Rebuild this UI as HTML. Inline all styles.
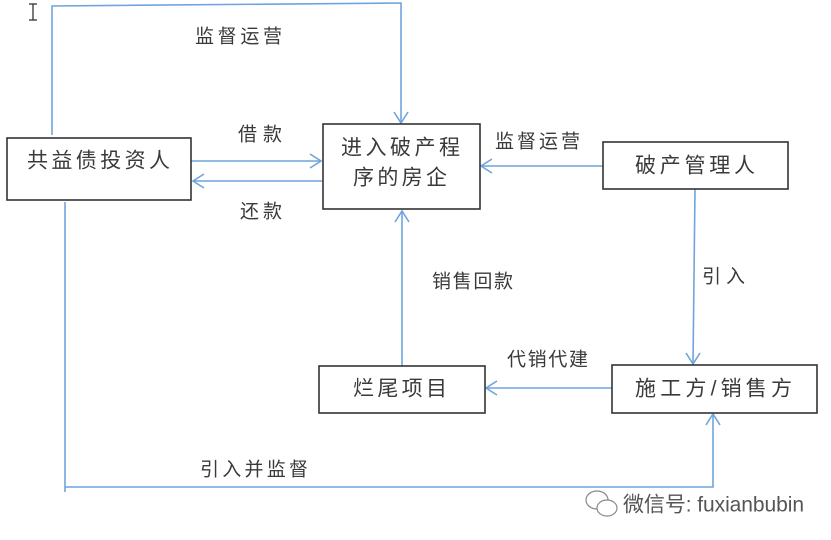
<!DOCTYPE html>
<html><head><meta charset="utf-8"><style>
html,body{margin:0;padding:0;background:#fff;}
svg{display:block;}
text{font-family:"Liberation Sans","Noto Sans CJK SC",sans-serif;fill:#3a3a3a;}
</style></head><body>
<svg width="831" height="540" viewBox="0 0 831 540" xmlns="http://www.w3.org/2000/svg">
<g stroke="#6fa4dc" stroke-width="1.6" fill="none">
  <!-- top loop -->
  <polyline points="52,135 52,6 401,3 401,123"/>
  <polyline points="394,112 401,123 408,112"/>
  <!-- borrow -->
  <line x1="191" y1="161" x2="321" y2="161"/>
  <polyline points="310,154 321,161 310,168"/>
  <!-- repay -->
  <line x1="322" y1="181" x2="193" y2="181"/>
  <polyline points="204,174 193,181 204,188"/>
  <!-- manager to company -->
  <line x1="603" y1="166" x2="481" y2="166"/>
  <polyline points="492,159 481,166 492,173"/>
  <!-- manager down to construction -->
  <line x1="695" y1="189" x2="693" y2="364"/>
  <polyline points="686,353 693,364 700,353"/>
  <!-- project up to company -->
  <line x1="402" y1="366" x2="402" y2="211"/>
  <polyline points="395,222 402,211 409,222"/>
  <!-- construction to project -->
  <line x1="612" y1="388" x2="486" y2="388"/>
  <polyline points="497,381 486,388 497,395"/>
  <!-- bottom loop -->
  <polyline points="65,202 65,492"/>
  <polyline points="65,487 713,487 713,414"/>
  <polyline points="706,425 713,414 720,425"/>
</g>
<!-- cursor -->
<g stroke="#333" stroke-width="1.3" fill="none">
  <line x1="33" y1="4" x2="33" y2="20"/>
  <line x1="29" y1="4" x2="37" y2="4"/>
  <line x1="29" y1="20" x2="37" y2="20"/>
</g>
<!-- boxes -->
<g stroke="#333" stroke-width="1.6" fill="#fff">
  <rect x="7" y="138" width="184" height="62"/>
  <rect x="323" y="124" width="157" height="85"/>
  <rect x="603" y="142" width="185" height="47"/>
  <rect x="319" y="366" width="166" height="47"/>
  <rect x="612" y="365" width="205" height="48"/>
</g>
<!-- box text -->
<g font-size="21" dominant-baseline="central">
  <text x="27" y="161" textLength="143" lengthAdjust="spacing">共益债投资人</text>
  <text x="341" y="148" textLength="119" lengthAdjust="spacing">进入破产程</text>
  <text x="353" y="178" textLength="94" lengthAdjust="spacing">序的房企</text>
  <text x="635" y="166" textLength="120" lengthAdjust="spacing">破产管理人</text>
  <text x="353" y="389" textLength="94" lengthAdjust="spacing">烂尾项目</text>
  <text x="635" y="389" textLength="157" lengthAdjust="spacing">施工方/销售方</text>
</g>
<!-- labels -->
<g font-size="19" dominant-baseline="central">
  <text x="195" y="37" textLength="87" lengthAdjust="spacing">监督运营</text>
  <text x="238" y="135" textLength="44" lengthAdjust="spacing">借款</text>
  <text x="240" y="212" textLength="42" lengthAdjust="spacing">还款</text>
  <text x="495" y="142" textLength="85" lengthAdjust="spacing">监督运营</text>
  <text x="702" y="277" textLength="43" lengthAdjust="spacing">引入</text>
  <text x="432" y="282" textLength="81" lengthAdjust="spacing">销售回款</text>
  <text x="507" y="360" textLength="81" lengthAdjust="spacing">代销代建</text>
  <text x="200" y="470" textLength="108" lengthAdjust="spacing">引入并监督</text>
</g>
<!-- watermark -->
<g stroke="#888" stroke-width="1.2" fill="#fff">
  <ellipse cx="597" cy="500" rx="11" ry="9"/>
  <ellipse cx="607" cy="508" rx="10" ry="8"/>
</g>
<text x="623" y="505" font-size="21" dominant-baseline="central" textLength="181" lengthAdjust="spacing" style="fill:#555">微信号: fuxianbubin</text>
</svg>
</body></html>
